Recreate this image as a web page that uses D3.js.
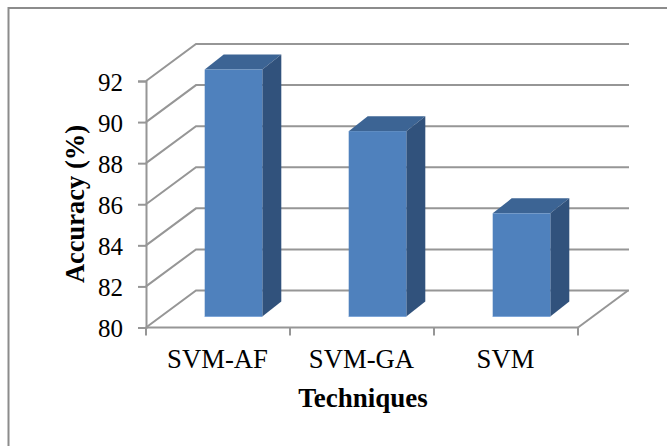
<!DOCTYPE html>
<html>
<head>
<meta charset="utf-8">
<script src="https://cdn.jsdelivr.net/npm/d3@7/dist/d3.min.js"></script>
<style>
html,body{margin:0;padding:0;background:#fff;}
svg{display:block;}
text{font-family:"Liberation Serif",serif;fill:#000;}
</style>
</head>
<body>
<svg id="chart" width="667" height="446"></svg>
<script>
const categories = ["SVM-AF", "SVM-GA", "SVM"];
const accuracy = [92, 89, 85];
const yTicks = [80, 82, 84, 86, 88, 90, 92];
const yTitle = "Accuracy (%)";
const xTitle = "Techniques";

(function () {
const svg = d3.select("#chart");
const frameColor = "#8c8c8c";
const gridColor = "#969696";

// Plot box of the front plane and the 3D projection offsets
const plotLeft = 146, plotRight = 578, plotBottom = 327.5, plotTop = 81;
const wallDx = 50, wallDy = -37;      // front plane to back wall
const barDx = 19, barDy = -15;        // depth of one column
const insetDx = 15.5, insetDy = -11;  // front plane to column front face

const x = d3.scaleBand().domain(categories).range([plotLeft, plotRight]);
const y = d3.scaleLinear().domain([80, 92]).range([plotBottom, plotTop]);
const barW = x.bandwidth() * 0.4;

// Outer chart frame, open on the right and at the bottom of the page
svg.append("path")
  .attr("d", "M8.5,446V8H667")
  .attr("fill", "none").attr("stroke", frameColor).attr("stroke-width", 2);

// Back wall gridlines and the diagonals joining them to the value axis
const grid = svg.append("g").attr("stroke", gridColor).attr("stroke-width", 2).attr("fill", "none");
grid.selectAll("path.wall").data(yTicks).join("path").attr("class", "wall")
  .attr("d", t => `M${plotLeft},${y(t)}L${plotLeft + wallDx},${y(t) + wallDy}H${plotRight + wallDx + 1}`);

// Floor edge on the right
grid.append("path")
  .attr("d", `M${plotRight},${plotBottom}L${plotRight + wallDx},${plotBottom + wallDy}`);

// Columns: top, side, then front face
const bars = svg.append("g").selectAll("g").data(categories).join("g");
const fx = d => x(d) + (x.bandwidth() - barW) / 2 + insetDx;
const baseY = y(80) + insetDy;
const topY = (d, i) => y(accuracy[i]) + insetDy - 0.5;

bars.append("path").attr("fill", "#3c6494")
  .attr("d", (d, i) => {
    const a = fx(d), t = topY(d, i);
    return `M${a},${t}L${a + barDx},${t + barDy}H${a + barW + barDx}L${a + barW},${t}Z`;
  });
bars.append("path").attr("fill", "#31527c")
  .attr("d", (d, i) => {
    const a = fx(d) + barW, t = topY(d, i);
    return `M${a},${t}L${a + barDx},${t + barDy}V${baseY + barDy}L${a},${baseY}Z`;
  });
bars.append("rect").attr("fill", "#4f81bd")
  .attr("x", fx).attr("width", barW)
  .attr("y", topY).attr("height", (d, i) => baseY - topY(d, i));
bars.append("line").attr("stroke", "#7ea6d8").attr("stroke-width", 1)
  .attr("x1", fx).attr("x2", d => fx(d) + barW)
  .attr("y1", baseY).attr("y2", baseY);

// Value axis
const yAxis = svg.append("g").attr("transform", `translate(${plotLeft},0)`)
  .call(d3.axisLeft(y).tickValues(yTicks).tickFormat(d3.format("d")).tickSize(8).tickPadding(15));
yAxis.selectAll("text").style("font-size", "25px").attr("dy", "9").style("fill", "#000");

// Category axis: ticks sit on the band edges
const xAxis = svg.append("g").attr("transform", `translate(0,${plotBottom})`);
xAxis.append("path").attr("d", `M${plotLeft},0H${plotRight}`).attr("fill", "none");
xAxis.selectAll("line.edge").data(x.domain().map(d => x(d)).concat(plotRight)).join("line")
  .attr("class", "edge")
  .attr("x1", d => d).attr("x2", d => d).attr("y1", 0).attr("y2", 8);
xAxis.selectAll("text").data(categories).join("text")
  .attr("x", d => x(d) + x.bandwidth() / 2 - 0.5).attr("y", 40.5)
  .attr("text-anchor", "middle").style("font-size", "26.7px").text(d => d);

[yAxis, xAxis].forEach(a => {
  a.selectAll("path,line").attr("stroke", gridColor).attr("stroke-width", 2);
});

// Axis titles
svg.append("text").attr("x", 363).attr("y", 406.5)
  .attr("text-anchor", "middle").style("font-size", "27px").style("font-weight", "bold").text(xTitle);
svg.append("text").attr("transform", "translate(83.5,204) rotate(-90)")
  .attr("text-anchor", "middle").style("font-size", "26.5px").style("font-weight", "bold").text(yTitle);
})();
</script>
</body>
</html>
